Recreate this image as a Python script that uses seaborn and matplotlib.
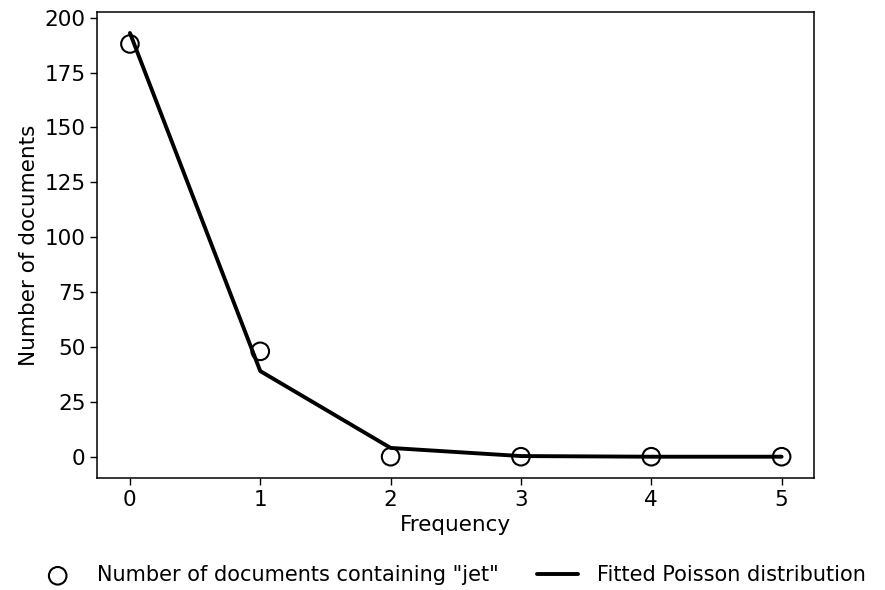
import matplotlib
matplotlib.use("Agg")
import matplotlib.pyplot as plt
import seaborn as sns
import pandas as pd

frequency = [0, 1, 2, 3, 4, 5]
observed_docs = [188, 48, 0, 0, 0, 0]
fitted_poisson = [193, 39, 4, 0.3, 0.0, 0.0]

obs_label = 'Number of documents containing "jet"'
fit_label = 'Fitted Poisson distribution'

sns.set_theme(style="ticks", context="notebook")
plt.rcParams['font.family'] = ['DejaVu Sans']
plt.rcParams['text.color'] = 'black'
plt.rcParams['axes.labelcolor'] = 'black'
FS = 15.5

df_obs = pd.DataFrame({"Frequency": frequency, "Docs": observed_docs})
df_fit = pd.DataFrame({"Frequency": frequency, "Docs": fitted_poisson})

fig, ax = plt.subplots(figsize=(8.85, 5.9), dpi=100)
sns.scatterplot(data=df_obs, x="Frequency", y="Docs", ax=ax, marker="o",
                s=160, facecolor="none", edgecolor="black", linewidth=1.5,
                label=obs_label, zorder=3)
sns.lineplot(data=df_fit, x="Frequency", y="Docs", ax=ax, color="black",
             linewidth=2.8, label=fit_label, zorder=2)

ax.set_xlabel("Frequency", fontsize=FS, color="black")
ax.set_ylabel("Number of documents", fontsize=FS, color="black")
ax.tick_params(labelsize=FS, length=5, width=1, color="black", labelcolor="black")
for sp in ax.spines.values():
    sp.set_color("black")
    sp.set_linewidth(1.1)
ax.set_yticks([0, 25, 50, 75, 100, 125, 150, 175, 200])
ax.set_xticks(frequency)

leg = ax.legend(loc="center", bbox_to_anchor=(0.51, 0.025), bbox_transform=fig.transFigure,
                ncol=2, frameon=False, fontsize=15, columnspacing=1.8,
                handlelength=2.0, handletextpad=0.9)
for t in leg.get_texts():
    t.set_color("black")

fig.subplots_adjust(left=0.11, right=0.92, top=0.98, bottom=0.19)
fig.savefig("out.png", dpi=100)
